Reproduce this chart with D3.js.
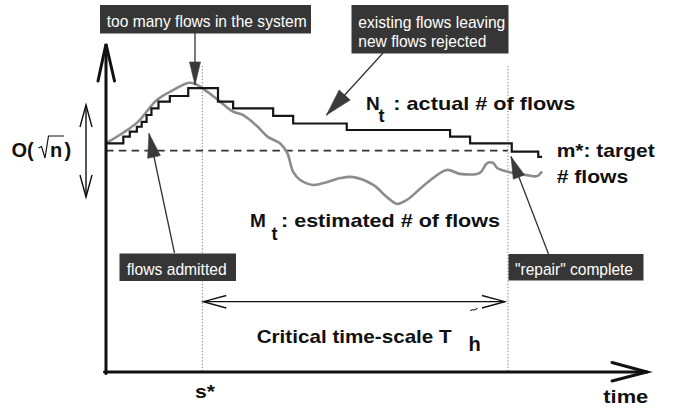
<!DOCTYPE html>
<html><head><meta charset="utf-8">
<script src="https://cdn.jsdelivr.net/npm/d3@7"></script>
<style>
html,body{margin:0;padding:0;background:#fff;}
svg{display:block;}
</style></head>
<body>
<svg id="c" width="673" height="411"></svg>
<script>
// ---- data (time 0..100, count 0..100) ----
const stepTimes  = [0, 3.2, 4.4, 5.7, 6.6, 7.5, 8.4, 9.7, 11.8, 15.2, 20.7, 23.5, 30.9, 34.6, 44.5, 63.6, 67.3, 75.0, 79.9, 80.6];
const stepCounts = [69.9, 72.0, 73.5, 75.0, 76.5, 78.6, 80.6, 82.7, 84.4, 86.8, 82.7, 80.6, 78.3, 76.0, 74.0, 72.0, 69.9, 67.4, 65.8, 65.8];
const estTimes  = [0, 3.1, 5.9, 9.4, 12.4, 15.2, 16.5, 18.3, 20.7, 23.5, 25.3, 27.9, 29.9, 32.2, 33.5, 34.6, 35.9, 38.3, 40.9, 43.3, 45.7, 49.4, 51.9, 53.8, 55.6, 59.3, 63.0, 65.4, 69.1, 70.4, 71.5, 72.3, 73.4, 75.2, 77.8, 79.7, 80.6];
const estCounts = [70.0, 73.1, 76.5, 83.2, 86.2, 88.4, 88.1, 86.2, 83.2, 79.6, 78.6, 75.2, 71.9, 69.9, 67.0, 61.2, 58.7, 57.2, 58.1, 59.3, 59.6, 57.2, 53.5, 51.4, 52.6, 57.8, 61.8, 60.6, 60.9, 63.8, 64.0, 62.4, 61.6, 60.9, 60.2, 59.9, 61.3];
const targetCount = 67.7;
const sStar = 17.8;
const tRepair = 74.3;
const boxLabels = ["too many flows in the system", "existing flows leaving", "new flows rejected", "flows admitted", "\"repair\" complete"];

// ---- scales ----
const x = d3.scaleLinear().domain([0, 100]).range([106, 647]);
const y = d3.scaleLinear().domain([0, 100]).range([372, 45]);

const svg = d3.select("#c");
const BOLD = "'Liberation Sans', Arial, Helvetica, sans-serif";
const NARROW = "'Liberation Sans Narrow', 'Liberation Sans', Arial, sans-serif";

// dotted verticals
[sStar, tRepair].forEach(t => {
  svg.append("line").attr("x1", x(t)).attr("x2", x(t)).attr("y1", 66).attr("y2", y(0))
    .attr("stroke", "#777").attr("stroke-width", 1).attr("stroke-dasharray", "1.2,2");
});

// target dashed line
svg.append("line").attr("x1", x(0)).attr("x2", x(tRepair)).attr("y1", y(targetCount)).attr("y2", y(targetCount))
  .attr("stroke", "#333").attr("stroke-width", 1.8).attr("stroke-dasharray", "7.5,5.3");

// estimated M_t (grey)
const estData = estTimes.map((t, i) => [t, estCounts[i]]);
svg.append("path").datum(estData)
  .attr("d", d3.line().x(d => x(d[0])).y(d => y(d[1])).curve(d3.curveCatmullRom.alpha(0.5)))
  .attr("fill", "none").attr("stroke", "#8c8c8c").attr("stroke-width", 2.6).attr("stroke-linejoin", "round");

// actual N_t (step)
const stepData = stepTimes.map((t, i) => [t, stepCounts[i]]);
svg.append("path").datum(stepData)
  .attr("d", d3.line().x(d => x(d[0])).y(d => y(d[1])).curve(d3.curveStepAfter))
  .attr("fill", "none").attr("stroke", "#151515").attr("stroke-width", 2.2);

// axes with open arrowheads
const ax = svg.append("g").attr("stroke", "#111").attr("stroke-width", 3).attr("fill", "none").attr("stroke-linecap", "round");
ax.append("line").attr("x1", x(0)).attr("x2", x(0)).attr("y1", y(0) + 1.5).attr("y2", y(100));
ax.append("polyline").attr("points", `${x(0) - 8},${y(100) + 36} ${x(0)},${y(100) - 1} ${x(0) + 8.5},${y(100) + 36}`);
ax.append("line").attr("x1", x(0) - 1.5).attr("x2", x(100)).attr("y1", y(0)).attr("y2", y(0));
ax.append("polyline").attr("points", `${x(100) - 35},${y(0) - 9.5} ${x(100)},${y(0)} ${x(100) - 35},${y(0) + 9}`);

// O(sqrt n) double arrow
const dv = svg.append("g").attr("stroke", "#111").attr("stroke-width", 1.4).attr("fill", "none");
dv.append("line").attr("x1", 86).attr("x2", 86).attr("y1", 105).attr("y2", 197);
dv.append("polyline").attr("points", "80,127 86,105 92,127");
dv.append("polyline").attr("points", "80,175 86,197 92,175");

// Critical time-scale double arrow
const dh = svg.append("g").attr("stroke", "#111").attr("stroke-width", 1.3).attr("fill", "none");
dh.append("line").attr("x1", x(sStar) + 1).attr("x2", x(tRepair) - 3).attr("y1", 301.7).attr("y2", 301.7);
dh.append("polyline").attr("points", `${x(sStar) + 24},${295.5} ${x(sStar) + 1},301.7 ${x(sStar) + 24},${308}`);
dh.append("polyline").attr("points", `${x(tRepair) - 26},${295.5} ${x(tRepair) - 3},301.7 ${x(tRepair) - 26},${308}`);

// annotation arrows
function arrow(x1, y1, x2, y2, hl, hw) {
  svg.append("line").attr("x1", x1).attr("y1", y1).attr("x2", x2).attr("y2", y2)
    .attr("stroke", "#333").attr("stroke-width", 1.3);
  const a = Math.atan2(y2 - y1, x2 - x1), c = Math.cos(a), s = Math.sin(a);
  const bx = x2 - c * hl, by = y2 - s * hl;
  svg.append("path").attr("d", `M${x2},${y2}L${bx - s * hw / 2},${by + c * hw / 2}L${bx + s * hw / 2},${by - c * hw / 2}Z`)
    .attr("fill", "#3a3a3a").attr("stroke", "#3a3a3a").attr("stroke-width", 0.6);
}
arrow(195, 33, 195, 85, 23, 11);
arrow(383, 53, 326.5, 115, 27, 15);
arrow(174.5, 253, 149, 133.5, 24, 13);
arrow(548.5, 254, 511, 156.5, 22, 12);

// dark label boxes
function box(x0, y0, x1, y1, lines) {
  svg.append("rect").attr("x", x0).attr("y", y0).attr("width", x1 - x0).attr("height", y1 - y0).attr("fill", "#363636");
  lines.forEach(l => {
    svg.append("text").attr("x", l.x).attr("y", l.y).text(l.t)
      .attr("fill", "#fff").attr("font-family", NARROW).attr("font-size", 17)
      .attr("textLength", l.w).attr("lengthAdjust", "spacingAndGlyphs");
  });
}
box(100, 5, 311, 33.5, [{t: boxLabels[0], x: 106.7, y: 27, w: 200}]);
box(351.5, 5, 508.5, 53.5, [{t: boxLabels[1], x: 358.3, y: 28.3, w: 147}, {t: boxLabels[2], x: 358.3, y: 46.8, w: 128}]);
box(119.5, 253.5, 236, 281, [{t: boxLabels[3], x: 126.7, y: 275, w: 100}]);
box(508.5, 254, 643.5, 280.5, [{t: boxLabels[4], x: 515, y: 275, w: 118}]);

// bold labels
function txt(s, px, py, size, w, weight) {
  const t = svg.append("text").attr("x", px).attr("y", py).text(s)
    .attr("fill", "#111").attr("font-family", BOLD).attr("font-size", size)
    .attr("font-weight", weight || "bold");
  if (w) t.attr("textLength", w).attr("lengthAdjust", "spacingAndGlyphs");
  return t;
}
txt("N", 366, 110, 19);
txt("t", 378.5, 122, 18);
txt(": actual # of flows", 393.3, 110, 19, 182);
txt("m*: target", 556.7, 156.7, 19, 98);
txt("# flows", 556.7, 182.7, 19, 71.6);
txt("M", 250, 226.7, 19);
txt("t", 271.5, 239.5, 18);
txt(": estimated # of flows", 281, 226.7, 19, 219);
txt("Critical time-scale T", 256.7, 343.3, 19, 195);
txt("h", 468.5, 350.5, 20);
// tilde over h
svg.append("path").attr("d", "M470.5,311 C472,307.5 474,312.5 477.5,308")
  .attr("fill", "none").attr("stroke", "#111").attr("stroke-width", 1.1);
txt("s*", 195, 398.3, 19, 20);
txt("time", 603.3, 403.3, 19, 45);
txt("O(", 11.5, 157, 20);
txt("n", 50, 157, 20);
txt(")", 64.5, 157, 20);
// radical sign
svg.append("path").attr("d", "M38.5,148 L41.5,146.5 L45,158 L48.5,136 L64,136")
  .attr("fill", "none").attr("stroke", "#111").attr("stroke-width", 1.2);
</script>
</body></html>
